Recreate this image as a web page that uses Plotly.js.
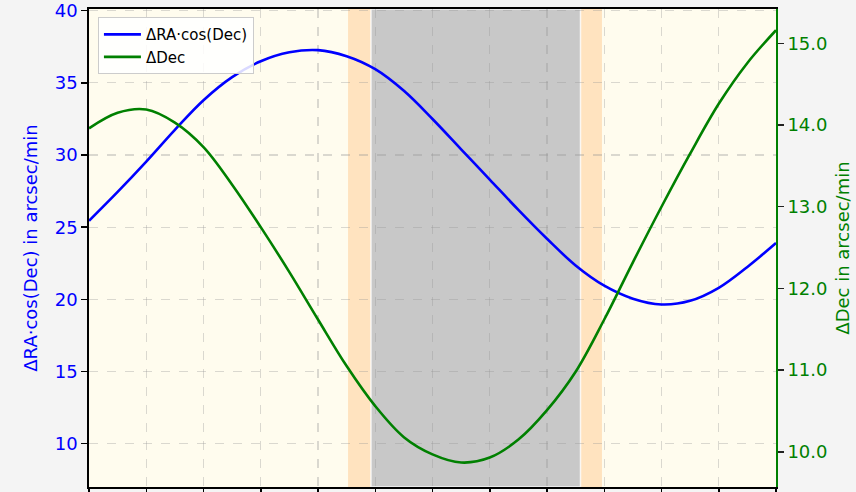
<!DOCTYPE html>
<html>
<head>
<meta charset="utf-8">
<script src="https://cdn.plot.ly/plotly-3.0.1.min.js"></script>
<style>
  html, body { margin: 0; padding: 0; background: #f4f4f4; }
  #chart { width: 856px; height: 492px; }
</style>
</head>
<body>
<div id="chart"></div>
<script>
// Hour of day (UT) for each sample
const hours = [0, 1, 2, 3, 4, 5, 6, 7, 8, 9, 10, 11, 12,
               13, 14, 15, 16, 17, 18, 19, 20, 21, 22, 23, 24];

// Apparent motion rates, arcsec/min
const raRate = [25.45, 27.45, 29.55, 31.75, 33.8, 35.4, 36.5, 37.12, 37.27, 36.85, 35.95, 34.45, 32.5,
                30.4, 28.3, 26.2, 24.2, 22.35, 20.95, 20.05, 19.65, 19.9, 20.8, 22.25, 23.9];
const decRate = [13.96, 14.15, 14.19, 14.03, 13.73, 13.27, 12.75, 12.2, 11.62, 11.05, 10.56, 10.18, 9.97,
                 9.87, 9.93, 10.15, 10.51, 10.98, 11.62, 12.32, 13.0, 13.65, 14.26, 14.76, 15.16];

// Twilight and night boundaries (hours)
const twilightStart = 9.05;
const nightStart = 9.85;
const nightEnd = 17.17;
const twilightEnd = 17.92;

const seriesNames = ['ΔRA·cos(Dec)', 'ΔDec'];
const leftTitle = 'ΔRA·cos(Dec) in arcsec/min';
const rightTitle = 'ΔDec in arcsec/min';

const BLUE = '#0000ff';
const GREEN = '#008000';
const FONT = 'DejaVu Sans, sans-serif';

const traces = [
  {
    x: hours, y: raRate, name: seriesNames[0], type: 'scatter', mode: 'lines',
    line: { color: BLUE, width: 2.6, shape: 'spline', smoothing: 1 },
    yaxis: 'y'
  },
  {
    x: hours, y: decRate, name: seriesNames[1], type: 'scatter', mode: 'lines',
    line: { color: GREEN, width: 2.6, shape: 'spline', smoothing: 1 },
    yaxis: 'y2'
  }
];

const band = (x0, x1, color, line) => ({
  type: 'rect', xref: 'x', yref: 'paper', x0: x0, x1: x1, y0: 0, y1: 1,
  fillcolor: color, line: line || { width: 0 }, layer: 'below'
});

const layout = {
  width: 856, height: 492,
  margin: { l: 89, r: 80, t: 9, b: 5 },
  paper_bgcolor: '#f4f4f4',
  plot_bgcolor: '#fffcee',
  font: { family: FONT, size: 18, color: '#000' },
  showlegend: true,
  legend: {
    x: 0.013, y: 0.983, xanchor: 'left', yanchor: 'top',
    bgcolor: 'rgba(255,255,255,0.85)', bordercolor: '#cccccc', borderwidth: 1,
    font: { family: FONT, size: 15, color: '#000' },
    itemwidth: 37, tracegroupgap: 0
  },
  xaxis: {
    range: [0, 24], dtick: 2, tick0: 0,
    showticklabels: false, ticks: 'outside', ticklen: 6, tickwidth: 1.5, tickcolor: '#000',
    showline: true, linecolor: '#000', linewidth: 1.8, mirror: true,
    showgrid: true, gridcolor: 'rgba(150,150,150,0.35)', griddash: 'dash', gridwidth: 1.2,
    zeroline: false
  },
  yaxis: {
    range: [7.0, 40.12], tickvals: [10, 15, 20, 25, 30, 35, 40],
    ticks: 'outside', ticklen: 6, tickwidth: 1.5, tickcolor: '#000',
    tickfont: { family: FONT, size: 18, color: BLUE },
    showline: true, linecolor: '#000', linewidth: 1.8,
    showgrid: true, gridcolor: 'rgba(150,150,150,0.35)', griddash: 'dash', gridwidth: 1.2,
    zeroline: false,
    title: { text: leftTitle, font: { family: FONT, size: 18, color: BLUE }, standoff: 12 }
  },
  yaxis2: {
    overlaying: 'y', side: 'right',
    range: [9.57, 15.42], tickvals: [10, 11, 12, 13, 14, 15],
    ticktext: ['10.0', '11.0', '12.0', '13.0', '14.0', '15.0'],
    ticks: 'outside', ticklen: 6, tickwidth: 1.5, tickcolor: '#222',
    tickfont: { family: FONT, size: 18, color: GREEN },
    showline: true, linecolor: GREEN, linewidth: 1.8,
    showgrid: false, zeroline: false,
    title: { text: rightTitle, font: { family: FONT, size: 18, color: GREEN }, standoff: 10 }
  },
  shapes: [
    band(twilightStart, twilightEnd, '#ffe3bf'),
    band(nightStart, nightEnd, '#c8c8c8', { color: 'rgba(255,255,255,0.8)', width: 1.5 })
  ]
};

Plotly.newPlot('chart', traces, layout, { displayModeBar: false, staticPlot: true });
</script>
</body>
</html>
